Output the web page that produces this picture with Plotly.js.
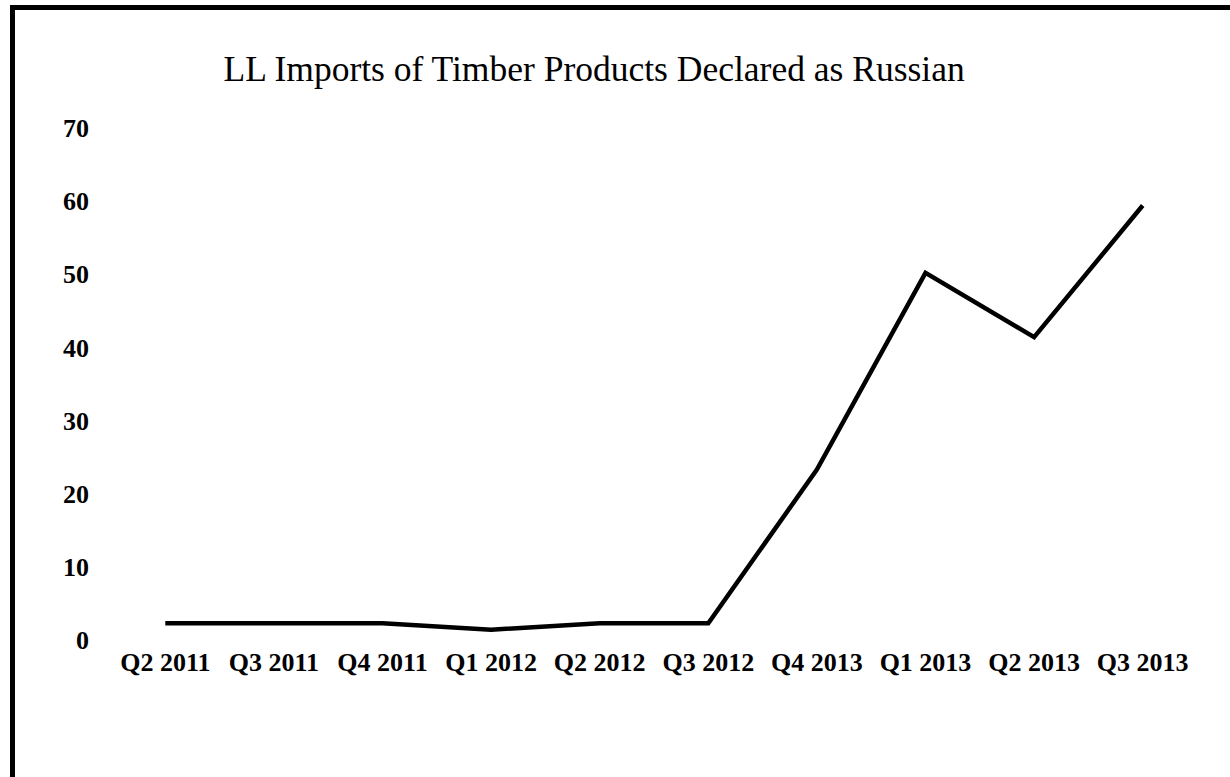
<!DOCTYPE html>
<html>
<head>
<meta charset="utf-8">
<script src="https://cdn.plot.ly/plotly-3.0.1.min.js"></script>
<style>
  html, body { margin: 0; padding: 0; background: #fff; }
  #wrap { position: relative; width: 1230px; height: 777px; overflow: hidden; }
  #chart { width: 1230px; height: 777px; }
  #frame { position: absolute; left: 10px; top: 5px; width: 1240px; height: 800px;
           border-top: 5px solid #000; border-left: 5px solid #000; pointer-events: none; }
</style>
</head>
<body>
<div id="wrap">
  <div id="chart"></div>
  <div id="frame"></div>
</div>
<script>
const quarters = ["Q2 2011", "Q3 2011", "Q4 2011", "Q1 2012", "Q2 2012", "Q3 2012", "Q4 2013", "Q1 2013", "Q2 2013", "Q3 2013"];
const imports = [2.3, 2.3, 2.3, 1.4, 2.3, 2.3, 23.3, 50.2, 41.4, 59.4];
const yTicks = [0, 10, 20, 30, 40, 50, 60, 70];
const titleText = "LL Imports of Timber Products Declared as Russian";

const trace = {
  x: quarters,
  y: imports,
  type: "scatter",
  mode: "lines",
  line: { color: "#000000", width: 4.5 },
  hoverinfo: "x+y"
};

const layout = {
  width: 1230,
  height: 777,
  margin: { l: 111, r: 33, t: 128, b: 137 },
  paper_bgcolor: "#ffffff",
  plot_bgcolor: "#ffffff",
  showlegend: false,
  title: {
    text: titleText,
    font: { family: "Liberation Serif, Times New Roman, serif", size: 35.5, color: "#000" },
    x: 0.483, xanchor: "center",
    y: 0.912, yanchor: "middle"
  },
  xaxis: {
    type: "category",
    range: [-0.5, 9.5],
    showgrid: false, zeroline: false, showline: false,
    ticks: "",
    ticklabelstandoff: 4,
    tickfont: { family: "Liberation Serif, Times New Roman, serif", size: 26, color: "#000", weight: "bold" }
  },
  yaxis: {
    range: [0, 70],
    tickvals: yTicks,
    ticktext: yTicks.map(String),
    showgrid: false, zeroline: false, showline: false,
    ticks: "",
    ticklabelstandoff: 21,
    tickfont: { family: "Liberation Serif, Times New Roman, serif", size: 26, color: "#000", weight: "bold" }
  }
};

Plotly.newPlot("chart", [trace], layout, { displayModeBar: false, staticPlot: false });
</script>
</body>
</html>
